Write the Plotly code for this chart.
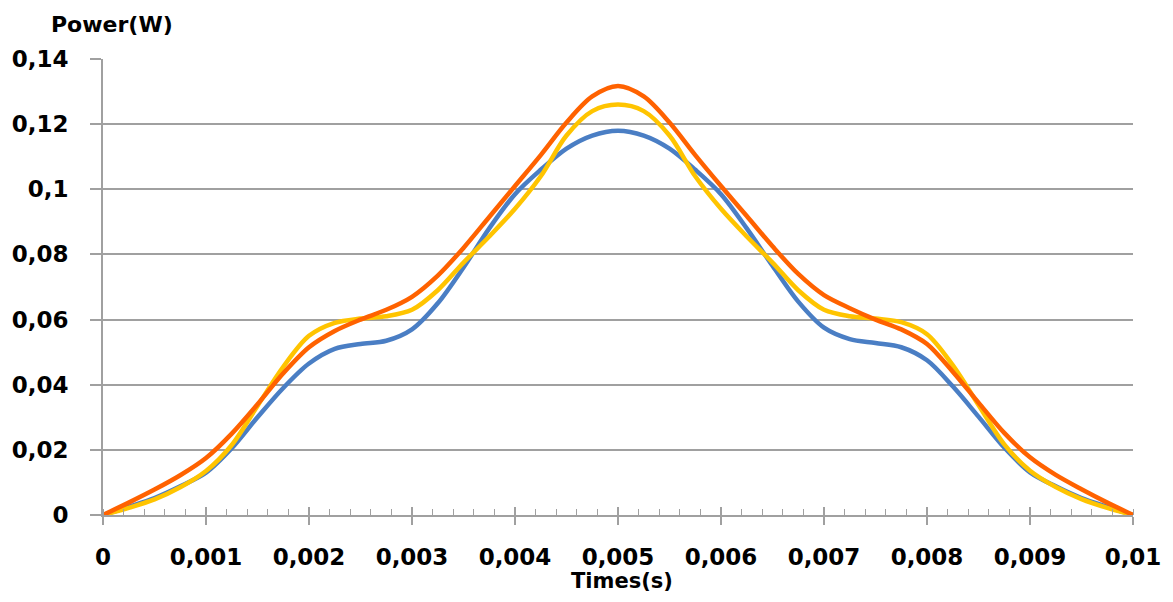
import plotly.graph_objects as go

# Time axis (s)
t = [i * 0.00025 for i in range(41)]

# Power series (W)
orange = [0, 0.0038, 0.0078, 0.0122, 0.0175, 0.0250, 0.0340, 0.0435, 0.0515, 0.0565,
          0.0600, 0.0630, 0.0670, 0.0735, 0.0820, 0.0915, 0.1010, 0.1105, 0.1205, 0.1285,
          0.1317,
          0.1285, 0.1205, 0.1105, 0.1010, 0.0918, 0.0825, 0.0740, 0.0675, 0.0635, 0.0600,
          0.0570, 0.0525, 0.0440, 0.0345, 0.0252, 0.0177, 0.0123, 0.0079, 0.0038, 0]
yellow = [0, 0.0022, 0.0048, 0.0085, 0.0135, 0.0215, 0.0335, 0.0455, 0.0550, 0.0590,
          0.0603, 0.0610, 0.0630, 0.0690, 0.0775, 0.0855, 0.0940, 0.1040, 0.1165, 0.1240,
          0.1260,
          0.1240, 0.1165, 0.1040, 0.0940, 0.0855, 0.0775, 0.0690, 0.0630, 0.0610, 0.0603,
          0.0592, 0.0555, 0.0460, 0.0338, 0.0217, 0.0136, 0.0086, 0.0049, 0.0022, 0]
blue = [0, 0.0025, 0.0052, 0.0088, 0.0130, 0.0205, 0.0300, 0.0390, 0.0465, 0.0510,
        0.0525, 0.0535, 0.0570, 0.0650, 0.0760, 0.0880, 0.0985, 0.1060, 0.1125, 0.1165,
        0.1180,
        0.1165, 0.1125, 0.1060, 0.0985, 0.0880, 0.0765, 0.0655, 0.0575, 0.0540, 0.0528,
        0.0515, 0.0475, 0.0395, 0.0302, 0.0207, 0.0131, 0.0088, 0.0052, 0.0025, 0]

x_tickvals = [i * 0.001 for i in range(11)]
x_ticktext = ["0", "0,001", "0,002", "0,003", "0,004", "0,005", "0,006", "0,007",
              "0,008", "0,009", "0,01"]
y_tickvals = [0, 0.02, 0.04, 0.06, 0.08, 0.1, 0.12, 0.14]
y_ticktext = ["0", "0,02", "0,04", "0,06", "0,08", "0,1", "0,12", "0,14"]

FONT = "DejaVu Sans"
GRID = "#a0a0a0"

fig = go.Figure()
for name, ys, col in [("Blue", blue, "#4a7ec4"),
                      ("Yellow", yellow, "#ffc400"),
                      ("Orange", orange, "#ff6200")]:
    fig.add_trace(go.Scatter(x=t, y=ys, mode="lines", name=name,
                             line=dict(color=col, width=4.5, shape="spline", smoothing=0.9)))

# invisible trace on overlay axis to draw the upper half of the crossing major ticks
fig.add_trace(go.Scatter(x=[t[0], t[-1]], y=[0, 0], xaxis="x2", mode="lines",
                         line=dict(width=0), hoverinfo="skip", showlegend=False))

fig.update_layout(
    width=1165, height=594,
    margin=dict(l=95, r=40, t=51, b=87),
    plot_bgcolor="white", paper_bgcolor="white",
    showlegend=False,
    font=dict(family=FONT, color="black"),
    xaxis=dict(range=[0, 0.01], tickmode="array", tickvals=x_tickvals, ticktext=x_ticktext,
               automargin=False,
               showgrid=False, zeroline=False, showline=True, linecolor=GRID, linewidth=2,
               ticks="outside", ticklen=8, tickwidth=1.5, tickcolor=GRID,
               ticklabelstandoff=12,
               tickfont=dict(family=FONT, size=23, color="black", weight="bold"),
               minor=dict(dtick=0.0002, tick0=0, ticks="inside", ticklen=6,
                          tickwidth=1.2, tickcolor=GRID, showgrid=False)),
    xaxis2=dict(range=[0, 0.01], overlaying="x", anchor="y", side="bottom",
                automargin=False,
                tickmode="array", tickvals=x_tickvals, ticktext=[""] * len(x_tickvals),
                showgrid=False, zeroline=False, showline=False,
                ticks="inside", ticklen=8, tickwidth=1.5, tickcolor=GRID),
    yaxis=dict(range=[0, 0.14], tickmode="array", tickvals=y_tickvals, ticktext=y_ticktext,
               automargin=False,
               showgrid=True, gridcolor=GRID, gridwidth=2, zeroline=False,
               showline=True, linecolor=GRID, linewidth=2,
               ticks="outside", ticklen=11, tickwidth=1.5, tickcolor=GRID,
               ticklabelstandoff=17,
               tickfont=dict(family=FONT, size=23, color="black", weight="bold")),
    annotations=[
        dict(text="<b>Power(W)</b>", xref="paper", yref="paper", x=-0.052, y=1.0,
             yshift=35, xanchor="left", yanchor="middle", showarrow=False,
             font=dict(family=FONT, size=22, color="black")),
        dict(text="<b>Times(s)</b>", xref="paper", yref="paper", x=0.504, y=0,
             yshift=-66, xanchor="center", yanchor="middle", showarrow=False,
             font=dict(family=FONT, size=21, color="black")),
    ],
)

fig.write_html("out.html")
